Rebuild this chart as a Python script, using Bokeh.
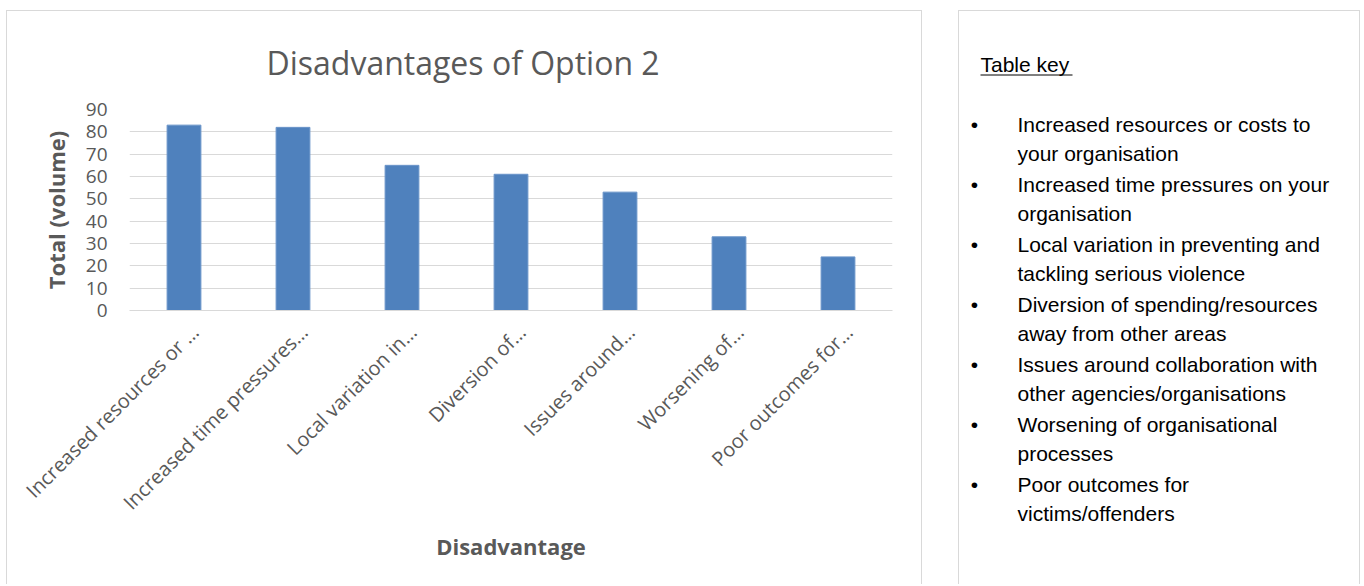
import math
from bokeh.plotting import figure
from bokeh.models import Range1d, ColumnDataSource, LinearAxis, FixedTicker
from bokeh.layouts import row
from bokeh.embed import file_html
from bokeh.resources import INLINE
from bokeh.core.properties import value

# ---------------- data ----------------
categories = [
    "Increased resources or …",
    "Increased time pressures…",
    "Local variation in…",
    "Diversion of…",
    "Issues around…",
    "Worsening of…",
    "Poor outcomes for…",
]
totals = [83, 82, 65, 61, 53, 33, 24]
y_ticks = [0, 10, 20, 30, 40, 50, 60, 70, 80, 90]
key_title = "Table key"
key_items = [
    ["Increased resources or costs to", "your organisation"],
    ["Increased time pressures on your", "organisation"],
    ["Local variation in preventing and", "tackling serious violence"],
    ["Diversion of spending/resources", "away from other areas"],
    ["Issues around collaboration with", "other agencies/organisations"],
    ["Worsening of organisational", "processes"],
    ["Poor outcomes for", "victims/offenders"],
]

GREY = "#595959"
FONT = "Open Sans"
BOX = "#d9d9d9"
W, H = 916, 574


def box_style(left_margin):
    return {"border-top": "1px solid " + BOX, "border-left": "1px solid " + BOX,
            "border-right": "1px solid " + BOX, "margin-top": "10px",
            "margin-left": left_margin}


n = len(categories)
idx = list(range(n))

# ---------------- chart ----------------
p = figure(
    x_range=Range1d(-0.5, n - 0.5), y_range=Range1d(0, 90),
    width=W, height=H, x_axis_location=None,
    output_backend="svg", toolbar_location=None,
    min_border_left=122, min_border_right=31,
    min_border_top=98, min_border_bottom=275,
    frame_align=False,
)
p.styles = box_style("6px")
p.outline_line_color = None
p.background_fill_color = "white"
p.border_fill_color = "white"

p.title.text = "Disadvantages of Option 2"
p.title.align = "left"
p.title.offset = 137
p.title.text_font = FONT
p.title.text_font_size = "32px"
p.title.text_font_style = "normal"
p.title.text_color = GREY
p.title.standoff = 52

src = ColumnDataSource(dict(i=idx, cat=categories, total=totals))
p.vbar(x="i", top="total", width=0.31, source=src,
       fill_color="#4f81bd", line_color="#6a94c9", line_width=1)

p.xgrid.grid_line_color = None
p.ygrid.grid_line_color = BOX
p.ygrid.ticker = y_ticks

ya = p.yaxis[0]
ya.ticker = y_ticks
ya.axis_line_color = None
ya.major_tick_line_color = None
ya.minor_tick_line_color = None
ya.major_tick_out = 0
ya.major_tick_in = 0
ya.major_label_standoff = 22
ya.major_label_text_font = FONT
ya.major_label_text_font_size = "19px"
ya.major_label_text_color = GREY
ya.axis_label = "Total (volume)"
ya.axis_label_text_font = FONT
ya.axis_label_text_font_size = "22px"
ya.axis_label_text_font_style = "bold"
ya.axis_label_text_color = GREY
ya.axis_label_standoff = 12

# category axis: labels end a little right of each bar centre (as Excel draws them)
shift = 0.10
p.extra_x_ranges = {"labels": Range1d(-0.5 - shift, n - 0.5 - shift)}
xa = LinearAxis(x_range_name="labels", ticker=FixedTicker(ticks=idx, minor_ticks=[]),
                major_label_overrides={i: c for i, c in zip(idx, categories)})
xa.axis_line_color = BOX
xa.major_tick_line_color = None
xa.minor_tick_line_color = None
xa.major_tick_out = 0
xa.major_tick_in = 0
xa.major_label_orientation = math.pi / 4
xa.major_label_standoff = 18
xa.major_label_text_font = FONT
xa.major_label_text_font_size = "20px"
xa.major_label_text_color = GREY
xa.axis_label = "Disadvantage"
xa.axis_label_text_font = FONT
xa.axis_label_text_font_size = "22px"
xa.axis_label_text_font_style = "bold"
xa.axis_label_text_color = GREY
xa.axis_label_standoff = 3
p.add_layout(xa, "below")

# ---------------- key panel ----------------
KW = 402
k = figure(
    width=KW, height=H, x_range=Range1d(0, KW), y_range=Range1d(H, 0),
    output_backend="svg", toolbar_location=None,
    x_axis_type=None, y_axis_type=None, min_border=0,
    frame_align=False,
)
k.styles = box_style("0px")
k.outline_line_color = None
k.xgrid.grid_line_color = None
k.ygrid.grid_line_color = None
k.background_fill_color = "white"
k.border_fill_color = "white"

KFONT = value("Liberation Sans")
tx, ty, tt = [21], [53], [key_title]
bx, by = [], []
for i, lines in enumerate(key_items):
    base = 113 + 60 * i
    bx.append(15)
    by.append(base)
    for j, line in enumerate(lines):
        tx.append(58)
        ty.append(base + 29 * j)
        tt.append(line)

k.text(x=tx, y=ty, text=tt, text_font=KFONT, text_font_size="21px",
       text_color="black", text_baseline="alphabetic", text_align="left")
k.text(x=bx, y=by, text=["•"] * len(bx), text_font=KFONT, text_font_size="21px",
       text_color="black", text_baseline="alphabetic", text_align="center")
k.segment(x0=[21], y0=[63.5], x1=[113], y1=[63.5], line_color="black", line_width=1)

layout = row(p, k, spacing=36)
open("out.html", "w").write(file_html(layout, INLINE))
